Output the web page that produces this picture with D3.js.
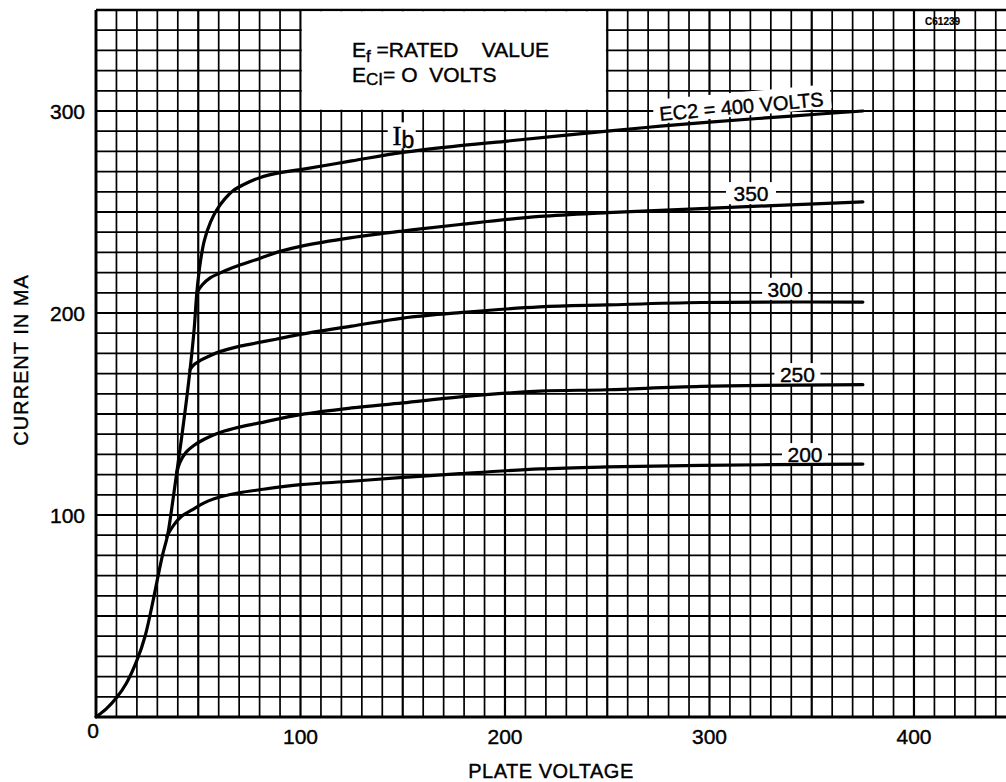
<!DOCTYPE html>
<meta charset="utf-8">
<style>
  body { margin: 0; background: #fff; }
  text { font-family: "Liberation Sans", Arial, sans-serif; fill: #000; stroke: #000; stroke-width: 0.4px; }
  .grid line { stroke: #000; }
  .curve { fill: none; stroke: #000; stroke-width: 3.2px; stroke-linejoin: round; stroke-linecap: round; }
</style>
<svg width="1006" height="782"></svg>
<script src="https://cdn.jsdelivr.net/npm/d3@7"></script>
<script>

// Ib curve, ends as the EC2 = 400 V curve  [plate volts, ma]
var ec2_400 = [[0,0],[5,4],[10,9.5],[15,17],[20,28],[24,40],[28,58],[30,68],[32.5,80],[35,90],[37,103],
  [39.5,121],[43,147],[46,172],[48,192],[49.3,210],[51,225],[53,236],[56,245],[59,251],[63,256.5],[67,260.5],
  [72,263.5],[80,267],[90,269.5],[100,271],[125,275.3],[150,279.5],[175,282.5],[200,285],[250,290],[276,292.5],
  [300,294.5],[340,297.5],[375,300]];
var ec2_350 = [[49.3,210],[52,214],[56,217.5],[60,219.5],[67,222.5],[80,227],[90,230.5],[100,233],
  [125,237.3],[150,240.6],[178,243.8],[217,247.8],[250,249.7],[296,251.7],[375,255]];
var ec2_300 = [[46,172],[48,174.5],[51,176.5],[56,179],[61,181],[68,183],[75,184.5],[88,187],[100,189.4],
  [125,193.5],[150,197.5],[178,200.2],[217,203],[250,204],[296,205.2],[375,205.4]];
var ec2_250 = [[39.5,121],[41,126],[44,131],[48,134.5],[52,137],[56,139],[61,141],[70,143.5],[80,145.6],
  [100,149.7],[125,153],[150,155.5],[178,158.5],[217,161.3],[250,162],[296,163.7],[375,164.5]];
var ec2_200 = [[34.6,89.4],[38,95],[42,99.5],[47,102.5],[51,105],[55,107],[61,109],[70,111],[80,112.5],
  [100,115],[125,116.7],[150,118.6],[178,120.5],[217,122.8],[250,123.8],[296,124.6],[375,125.2]];

var xTicks = [100, 200, 300, 400];
var yTicks = [100, 200, 300];
var curveLabels = ["350", "300", "250", "200"];

var svg = d3.select("svg");

var x = d3.scaleLinear().domain([0, 445]).range([96, 1006]);
var y = d3.scaleLinear().domain([0, 350]).range([717, 10]);

// graph paper
var grid = svg.append("g").attr("class", "grid");
grid.selectAll(".v").data(d3.range(0, 441, 10)).enter().append("line")
  .attr("x1", d => x(d)).attr("x2", d => x(d))
  .attr("y1", y(0)).attr("y2", y(350))
  .attr("stroke-width", d => d % 50 == 0 ? 2.2 : 1.7);
grid.selectAll(".h").data(d3.range(0, 351, 10)).enter().append("line")
  .attr("x1", x(0)).attr("x2", 1006)
  .attr("y1", d => y(d)).attr("y2", d => y(d))
  .attr("stroke-width", d => d % 50 == 0 ? 2.2 : 1.7);

// borders
svg.append("line").attr("x1", x(0)).attr("x2", x(0)).attr("y1", y(0)).attr("y2", y(350))
  .attr("stroke", "#000").attr("stroke-width", 2.8);
svg.append("line").attr("x1", x(0)).attr("x2", 1006).attr("y1", y(0)).attr("y2", y(0))
  .attr("stroke", "#000").attr("stroke-width", 2.8);
svg.append("line").attr("x1", x(0)).attr("x2", 1006).attr("y1", y(350)).attr("y2", y(350))
  .attr("stroke", "#000").attr("stroke-width", 2.4);

// conditions box (blank paper)
svg.append("rect")
  .attr("x", x(100) + 1.3).attr("y", y(350) + 1.3)
  .attr("width", x(250) - x(100) - 2.6).attr("height", y(300) - y(350) - 2.6)
  .attr("fill", "#fff");

var t1 = svg.append("text").attr("x", x(125.2)).attr("y", y(326.9)).style("font-size", "21px")
  .attr("xml:space", "preserve");
t1.append("tspan").text("E");
t1.append("tspan").attr("dy", 5).style("font-size", "17px").text("f");
t1.append("tspan").attr("dy", -5).text(" =RATED    VALUE");
var t2 = svg.append("text").attr("x", x(125.2)).attr("y", y(314.4)).style("font-size", "21px")
  .attr("xml:space", "preserve");
t2.append("tspan").text("E");
t2.append("tspan").attr("dy", 3).style("font-size", "17px").text("CI");
t2.append("tspan").attr("dy", -3).text("= O  VOLTS");

// white patch behind a label
function patch(cx, cy, w, h, rot) {
  svg.append("rect").attr("x", cx - w / 2).attr("y", cy - h / 2).attr("width", w).attr("height", h)
    .attr("fill", "#fff")
    .attr("transform", rot ? "rotate(" + rot + "," + cx + "," + cy + ")" : null);
}

patch(x(320.3), y(255.4) - 8, 50, 22);
patch(x(337), y(208) - 8, 46, 22);
patch(x(343), y(165.8) - 8, 46, 22);
patch(x(346.7), y(126.2) - 8, 46, 22);
patch(742, 104, 178, 24, -5.2);
patch(x(149.5), y(283) - 10, 28, 26);

// curves
var line = d3.line().x(d => x(d[0])).y(d => y(d[1])).curve(d3.curveCatmullRom.alpha(0.5));
[ec2_400, ec2_350, ec2_300, ec2_250, ec2_200].forEach(function(c) {
  svg.append("path").datum(c).attr("class", "curve").attr("d", line);
});

// curve labels
var labelPos = [[320.3, 255.4], [337, 208], [343, 165.8], [346.7, 126.2]];
svg.selectAll(".clab").data(curveLabels).enter().append("text")
  .attr("x", (d, i) => x(labelPos[i][0])).attr("y", (d, i) => y(labelPos[i][1]))
  .attr("text-anchor", "middle").style("font-size", "21px").text(d => d);

svg.append("text").attr("x", 742).attr("y", 113.5).attr("text-anchor", "middle")
  .attr("transform", "rotate(-5.2,742,113.5)").style("font-size", "20px")
  .text("EC2 = 400 VOLTS");

var ib = svg.append("text").attr("x", x(145)).attr("y", y(283));
ib.append("tspan").style("font-family", "'Liberation Serif', serif").style("font-size", "27px").text("I");
ib.append("tspan").attr("dy", 3).style("font-size", "23px").text("b");

svg.append("text").attr("x", x(414)).attr("y", y(342.5)).attr("text-anchor", "middle")
  .style("font-size", "10px").style("font-weight", "bold").style("stroke-width", "0.2px").text("C61239");

// axis numbers
svg.selectAll(".xt").data(xTicks).enter().append("text")
  .attr("x", d => x(d)).attr("y", 744).attr("text-anchor", "middle")
  .style("font-size", "21px").text(d => d);
svg.selectAll(".yt").data(yTicks).enter().append("text")
  .attr("x", 85).attr("y", d => y(d) + 7.5).attr("text-anchor", "end")
  .style("font-size", "21px").text(d => d);
svg.append("text").attr("x", 93).attr("y", 738).attr("text-anchor", "middle")
  .style("font-size", "21px").text("0");

// axis titles
svg.append("text").attr("x", 551).attr("y", 778).attr("text-anchor", "middle")
  .style("font-size", "20px").style("letter-spacing", "0.5px").text("PLATE VOLTAGE");
svg.append("text").attr("transform", "translate(28,360) rotate(-90)").attr("text-anchor", "middle")
  .style("font-size", "20px").style("letter-spacing", "1px").text("CURRENT IN MA");

</script>
